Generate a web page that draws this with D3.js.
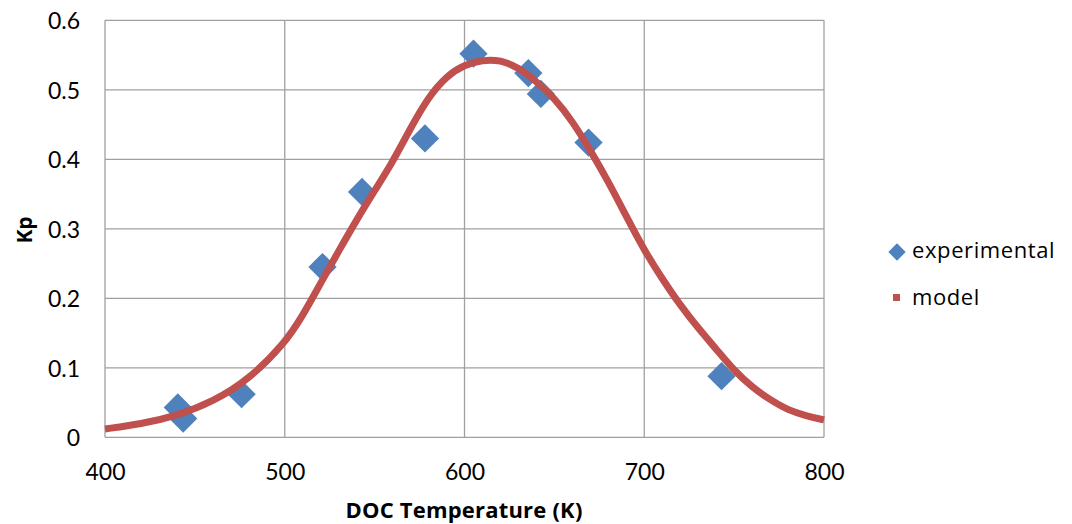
<!DOCTYPE html>
<html><head><meta charset="utf-8">
<script src="https://cdn.jsdelivr.net/npm/d3@7"></script>
<style>body{margin:0;background:#fff}svg{display:block}text{fill:#000}</style>
</head><body><svg id="c" width="1072" height="524"></svg>
<script>
const expT  = [440.5, 443.5, 476, 521, 543, 578, 605, 635.5, 642.5, 669, 743];
const expKp = [0.043, 0.027, 0.062, 0.245, 0.353, 0.430, 0.552, 0.524, 0.494, 0.424, 0.088];
const modelT  = [400, 420, 440, 460, 480, 500, 510, 520, 530, 540, 550, 560, 570, 580, 590, 600, 610, 620, 630, 640, 650, 660, 670, 680, 690, 700, 710, 720, 730, 740, 750, 760, 770, 780, 790, 800];
const modelKp = [0.012, 0.019, 0.031, 0.051, 0.083, 0.135, 0.175, 0.222, 0.268, 0.313, 0.355, 0.396, 0.445, 0.49, 0.52, 0.536, 0.543, 0.543, 0.532, 0.512, 0.488, 0.455, 0.413, 0.368, 0.318, 0.269, 0.228, 0.19, 0.157, 0.127, 0.096, 0.072, 0.054, 0.039, 0.031, 0.025];
const xTicks = [400, 500, 600, 700, 800];
const yTicks = [0, 0.1, 0.2, 0.3, 0.4, 0.5, 0.6];
const seriesNames = ["experimental", "model"];

const svg = d3.select("#c");
const x = d3.scaleLinear().domain([400, 800]).range([105, 824]);
const y = d3.scaleLinear().domain([0, 0.6]).range([437.3, 20.3]);

const g = svg.append("g");
g.selectAll(".gx").data(xTicks).join("line")
  .attr("x1", d => x(d)).attr("x2", d => x(d)).attr("y1", y(0)).attr("y2", y(0.6))
  .attr("stroke", "#a0a0a0").attr("stroke-width", 1.3);
g.selectAll(".gy").data(yTicks).join("line")
  .attr("x1", x(400)).attr("x2", x(800)).attr("y1", d => y(d)).attr("y2", d => y(d))
  .attr("stroke", "#a0a0a0").attr("stroke-width", 1.3);

const xAxis = d3.axisBottom(x).tickValues(xTicks).tickSize(0).tickPadding(0).tickFormat(d3.format("d"));
const gx = svg.append("g").attr("transform", `translate(0,${y(0)})`).call(xAxis);
gx.select(".domain").remove();
gx.selectAll("text").attr("y", 43).attr("dy", 0).style("font-size", "23px").style("font-family", "Lato").style("fill", "#000");
const yAxis = d3.axisLeft(y).tickValues(yTicks).tickSize(0).tickFormat(d => d === 0 ? "0" : d3.format(".1f")(d));
const gy = svg.append("g").attr("transform", `translate(${x(400)},0)`).call(yAxis);
gy.select(".domain").remove();
gy.selectAll("text").attr("x", -25).attr("dy", "0.36em").style("font-size", "23px").style("font-family", "Lato").style("fill", "#000");

const diamond = d3.symbol().type(d3.symbolSquare).size(400);
svg.append("g").selectAll("path").data(expT.map((t, i) => [t, expKp[i]])).join("path")
  .attr("d", diamond)
  .attr("transform", d => `translate(${x(d[0])},${y(d[1])}) rotate(45)`)
  .attr("fill", "#4f81bd");

const line = d3.line().x(d => x(d[0])).y(d => y(d[1])).curve(d3.curveBasis);
svg.append("path").datum(modelT.map((t, i) => [t, modelKp[i]]))
  .attr("d", line).attr("fill", "none").attr("stroke", "#c0504d").attr("stroke-width", 7);

svg.append("text").attr("x", 464).attr("y", 518).attr("text-anchor", "middle")
  .style("font-family", "'Open Sans'").style("font-weight", "bold").style("font-size", "22px")
  .style("letter-spacing", "0.2px").text("DOC Temperature (K)");
svg.append("text").attr("transform", "translate(32,230) rotate(-90)").attr("text-anchor", "middle")
  .style("font-family", "'Open Sans'").style("font-weight", "bold").style("font-size", "21px").text("Kp");

const lg = svg.append("g");
lg.append("path").attr("d", d3.symbol().type(d3.symbolSquare).size(150)())
  .attr("transform", "translate(897,252) rotate(45)").attr("fill", "#4f81bd");
lg.append("rect").attr("x", 893).attr("y", 294).attr("width", 7).attr("height", 7).attr("fill", "#c0504d");
lg.append("text").attr("x", 912).attr("y", 258).style("font-family", "'Open Sans'").style("font-size", "22px").style("letter-spacing", "0.6px").text(seriesNames[0]);
lg.append("text").attr("x", 912).attr("y", 305).style("font-family", "'Open Sans'").style("font-size", "22px").style("letter-spacing", "0.6px").text(seriesNames[1]);
</script></body></html>
